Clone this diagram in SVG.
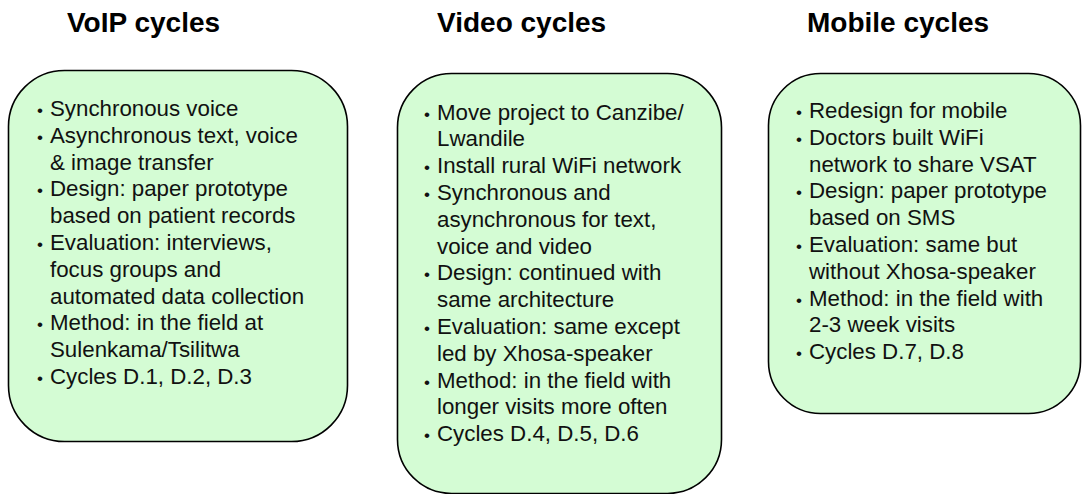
<svg xmlns="http://www.w3.org/2000/svg" width="1082" height="494" viewBox="0 0 1082 494">
<style>
  .box { fill: #d4fcd4; stroke: #000000; stroke-width: 1.6; }
  .title { font-family: "Liberation Sans", Arial, sans-serif; font-size: 28px; font-weight: bold; fill: #000000; }
  .body { font-family: "Liberation Sans", Arial, sans-serif; font-size: 22.3px; fill: #111111; }
  .bullet { font-family: "Liberation Sans", Arial, sans-serif; font-size: 17px; fill: #111111; }
</style>
<rect width="1082" height="494" fill="#ffffff"/>
<g id="titles">
  <text class="title" x="67" y="32">VoIP cycles</text>
  <text class="title" x="437" y="32">Video cycles</text>
  <text class="title" x="807" y="32">Mobile cycles</text>
</g>
<g id="connectors"></g>
<g id="voip">
  <rect class="box" x="8.5" y="70.5" width="339" height="371" rx="56" ry="56"/>
  <text class="bullet">
    <tspan x="37" y="116">•</tspan>
    <tspan x="37" y="142.8">•</tspan>
    <tspan x="37" y="196.4">•</tspan>
    <tspan x="37" y="250">•</tspan>
    <tspan x="37" y="330.4">•</tspan>
    <tspan x="37" y="384">•</tspan>
  </text>
  <text class="body">
    <tspan x="50" y="116">Synchronous voice</tspan>
    <tspan x="50" y="142.8">Asynchronous text, voice</tspan>
    <tspan x="50" y="169.6">&amp; image transfer</tspan>
    <tspan x="50" y="196.4">Design: paper prototype</tspan>
    <tspan x="50" y="223.2">based on patient records</tspan>
    <tspan x="50" y="250">Evaluation: interviews,</tspan>
    <tspan x="50" y="276.8">focus groups and</tspan>
    <tspan x="50" y="303.6">automated data collection</tspan>
    <tspan x="50" y="330.4">Method: in the field at</tspan>
    <tspan x="50" y="357.2">Sulenkama/Tsilitwa</tspan>
    <tspan x="50" y="384">Cycles D.1, D.2, D.3</tspan>
  </text>
</g>
<g id="video">
  <rect class="box" x="397.5" y="73.5" width="324" height="420" rx="54" ry="54"/>
  <text class="bullet">
    <tspan x="424" y="119.5">•</tspan>
    <tspan x="424" y="173.1">•</tspan>
    <tspan x="424" y="199.9">•</tspan>
    <tspan x="424" y="280.3">•</tspan>
    <tspan x="424" y="333.9">•</tspan>
    <tspan x="424" y="387.5">•</tspan>
    <tspan x="424" y="441.1">•</tspan>
  </text>
  <text class="body">
    <tspan x="437" y="119.5">Move project to Canzibe/</tspan>
    <tspan x="437" y="146.3">Lwandile</tspan>
    <tspan x="437" y="173.1">Install rural WiFi network</tspan>
    <tspan x="437" y="199.9">Synchronous and</tspan>
    <tspan x="437" y="226.7">asynchronous for text,</tspan>
    <tspan x="437" y="253.5">voice and video</tspan>
    <tspan x="437" y="280.3">Design: continued with</tspan>
    <tspan x="437" y="307.1">same architecture</tspan>
    <tspan x="437" y="333.9">Evaluation: same except</tspan>
    <tspan x="437" y="360.7">led by Xhosa-speaker</tspan>
    <tspan x="437" y="387.5">Method: in the field with</tspan>
    <tspan x="437" y="414.3">longer visits more often</tspan>
    <tspan x="437" y="441.1">Cycles D.4, D.5, D.6</tspan>
  </text>
</g>
<g id="mobile">
  <rect class="box" x="768.5" y="73.5" width="312" height="340" rx="52" ry="52"/>
  <text class="bullet">
    <tspan x="796" y="118">•</tspan>
    <tspan x="796" y="144.8">•</tspan>
    <tspan x="796" y="198.4">•</tspan>
    <tspan x="796" y="252">•</tspan>
    <tspan x="796" y="305.6">•</tspan>
    <tspan x="796" y="359.2">•</tspan>
  </text>
  <text class="body">
    <tspan x="809" y="118">Redesign for mobile</tspan>
    <tspan x="809" y="144.8">Doctors built WiFi</tspan>
    <tspan x="809" y="171.6">network to share VSAT</tspan>
    <tspan x="809" y="198.4">Design: paper prototype</tspan>
    <tspan x="809" y="225.2">based on SMS</tspan>
    <tspan x="809" y="252">Evaluation: same but</tspan>
    <tspan x="809" y="278.8">without Xhosa-speaker</tspan>
    <tspan x="809" y="305.6">Method: in the field with</tspan>
    <tspan x="809" y="332.4">2-3 week visits</tspan>
    <tspan x="809" y="359.2">Cycles D.7, D.8</tspan>
  </text>
</g>
</svg>
